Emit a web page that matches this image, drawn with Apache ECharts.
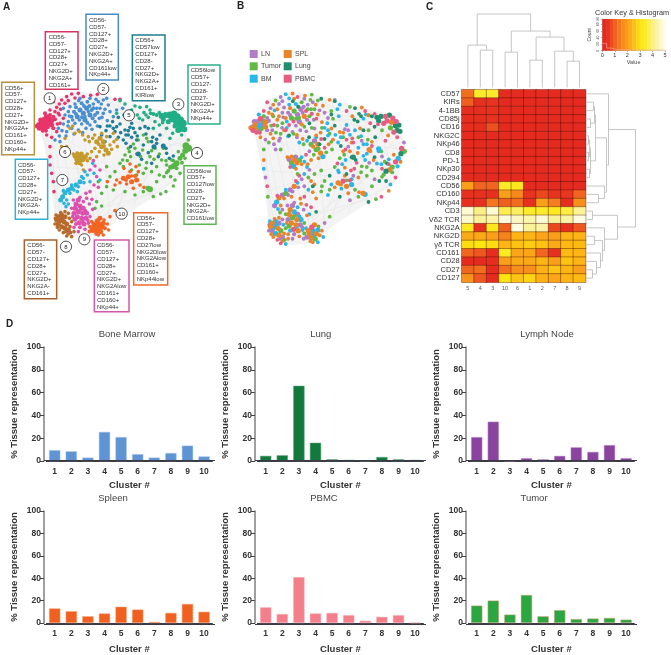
<!DOCTYPE html>
<html><head><meta charset="utf-8">
<style>html,body{margin:0;padding:0;background:#fff}#c{width:671px;height:655px}</style>
<script src="https://cdn.jsdelivr.net/npm/echarts@6/dist/echarts.min.js"></script>
</head><body><div id="c"></div>
<script>
const clusterNums=['1','2','3','4','5','6','7','8','9','10'];
const boneMarrow=[9.5,8.5,3,25.5,21,6,3,7,13.5,4];
const lung=[4.5,5,66,16,1.5,1,0.3,3.5,1.5,1];
const lymphNode=[21,34.5,0.3,2.5,1.5,4.5,12,8,14,2.5];
const spleen=[13,10.5,6,8.5,14.5,12,1,9,17,10];
const pbmc=[14,8,41,8.5,9,7,2,5.5,7,0.3];
const tumor=[15.5,20,7.5,25,6,11.5,3.5,4,4.5,3];
const heatCols=['5','4','3','10','6','1','2','7','8','9'];
const heatRows=['CD57','KIRs','4-1BB','CD85j','CD16','NKG2C','NKp46','CD8','PD-1','NKp30','CD294','CD56','CD160','NKp44','CD3','Vδ2 TCR','NKG2A','NKG2D','γδ TCR','CD161','CD28','CD27','CD127'];
const heatValues=[
[1.2,3.4,3.4,0.05,0.05,0,0,0,0,0],
[1.0,0.2,0.3,0,0,0,0,0,0,0],
[0.1,0.1,0.2,0,0,0,0,0,0,0],
[0.1,0.1,0.25,0,0,0,0,0,0,0],
[0.1,0.1,0.8,0,0,0,0,0,0,0],
[0,0,0,0,0,0,0,0,0,0],
[0,0,0,0,0,0,0,0,0,0],
[0,0,0,0,0,0,0,0,0,0],
[0,0,0,0,0,0,0,0,0,0],
[0,0,0,0,0,0,0,0,0,0],
[0,0,0,0,0,0,0,0,0,0],
[2,1.1,1.1,3.4,3.2,0,0,0,0,0],
[0.2,0.2,0.2,2,1.6,0.3,0.7,0.3,0.4,1.1],
[0.2,0.2,1.3,1,1.2,0.2,2,1.4,0.1,1.7],
[4.8,4,4.8,3.7,3.8,3.4,3.4,3.2,3.6,4.2],
[4.7,4.2,4.3,4.9,4.6,4.4,4.8,4.2,4.3,4.9],
[3.3,0.2,3.2,1,4.9,4.2,4.3,0.7,0.2,0.9],
[2.2,2.2,2.0,1.5,2.4,2.4,2.1,2,2.4,2.4],
[2.9,3,2.9,2.4,2.6,2.7,2.6,2.2,2.5,2.5],
[1.1,0.9,0.1,3.3,2.1,2.1,1.1,0.2,2.5,2.4],
[0,0,0.1,2,2.2,2.2,2.4,2,2.6,2.4],
[1.1,1.2,0,1.2,1.7,1.7,2.3,2.6,2.4,2],
[1.8,0.9,0,3,2.6,2.8,2.3,2.1,2.4,2.5]];
// dendrograms: [posA, heightA, posB, heightB, mergeHeight]
const colMerges=[[1,0,2,0,37],[0,0,1.5,37,42],[3,0,4,0,35],[5,0,6,0,27],[8,0,9,0,26],[7,0,8.5,26,36],[5.5,27,7.75,36,50],[3.5,35,6.625,50,56],[0.75,42,5.06,56,73]];
const rowMerges=[[1,0,2,0,7],[3,0,4,0,4],[1.5,7,3.5,4,8],[5,0,6,0,2],[7,0,8,0,2],[5.5,2,7.5,2,3],[9,0,10,0,3],[6.5,3,9.5,3,4],[2.5,8,8,4,9],[12,0,13,0,12],[11,0,12.5,12,18],[5.25,9,11.75,18,20],[0,0,8.5,20,22],[14,0,15,0,6],[17,0,18,0,8],[21,0,22,0,6],[20,0,21.5,6,10],[19,0,20.75,10,14],[17.5,8,19.9,14,16],[16,0,18.7,16,18],[14.5,6,17.35,18,31],[4.25,22,15.9,31,49]];
// colour key
const keySteps=[[0,0.3,0],[0.3,0.6,0.3],[0.6,0.9,0.75],[0.9,1.2,1.05],[1.2,1.5,1.35],[1.5,1.8,1.65],[1.8,2.1,1.95],[2.1,2.4,2.25],[2.4,2.7,2.55],[2.7,3,2.85],[3,3.3,3.15],[3.3,3.6,3.45],[3.6,3.9,3.75],[3.9,4.2,4.05],[4.2,4.5,4.35],[4.5,4.8,4.65],[4.8,5,4.95]];
const keyHist=[[0,22],[0.35,22],[0.35,8],[0.7,8],[0.7,3],[1.2,3],[1.2,2],[5,2]];
// network layout, one list per cluster: [x, y, optional dot size]
const net1=[[118,375,6],[125,368,6],[132,360,6],[140,352,6],[148,358,6],[125,380,6],[135,372,6],[145,368,6],[155,362,5],[118,385,5],[130,385,5],[142,380,5],[155,375,5],[165,358,4],[135,340,4],[128,392,4],[150,345,4],[165,335],[170,322],[178,312],[160,305],[185,300],[200,290],[215,282],[235,280],[195,310],[178,345],[180,370],[170,395],[155,412],[150,440],[150,470],[150,495],[155,520],[160,545],[162,575],[345,298],[360,298],[250,290],[272,286],[292,283],[182,328],[122,360,5],[112,378,5],[138,392,4],[160,385,4],[172,372],[190,355],[205,302],[225,294],[150,330],[140,405],[160,350,4],[175,340]];
const net2=[[250,340,5],[240,330,5],[260,325,5],[270,345,5],[232,350,5],[255,360,5],[275,330,4],[285,345,4],[222,335,4],[215,350,4],[245,310,4],[262,305,4],[280,312],[295,305],[300,325],[310,340],[298,355],[285,365],[270,375],[245,372],[225,370],[205,365],[195,345],[210,320],[225,312],[190,372],[175,385],[178,408],[200,395],[215,385],[235,390],[258,385],[310,300],[320,295],[325,315],[330,335],[350,330],[368,325],[340,350],[322,362],[240,295],[270,295],[255,350],[265,335],[238,360],[205,335],[290,325],[190,325],[165,420],[180,425],[228,322,4],[252,318,4],[268,318,4],[280,325,4],[292,338,4],[278,355,4],[262,368,4],[246,352,4],[228,342,4],[218,360],[208,348],[236,302],[288,298],[304,312],[315,328],[306,352],[292,378],[276,388],[248,398],[222,402],[198,408],[186,392],[204,378]];
const net3=[[485,348,6],[497,345,6],[510,345,7],[522,342,7],[532,350,7],[542,360,7],[550,370,7],[540,372,7],[528,362,7],[515,358,6],[545,385,7],[535,390,6],[553,388,6],[525,378,5],[505,365,5],[490,358,5],[470,345,4],[460,342,4],[450,330],[432,338],[445,352],[420,322],[405,318],[395,330],[412,345],[428,360],[465,365],[478,375],[500,385],[518,400],[545,405],[360,302],[375,312],[350,340],[510,415],[460,385],[478,338],[440,320],[418,355],[452,340],[488,368],[438,345]];
const net4=[[558,437,7],[566,445,7],[556,452,6],[548,465,5],[540,475,5],[530,490,6],[522,498,6],[512,502,5],[530,505,4],[500,495],[485,480],[470,500],[478,462],[465,445],[445,425],[430,405],[415,420],[400,432],[385,445],[375,465],[392,470],[410,462],[428,450],[450,470],[440,488],[418,495],[395,510],[410,525],[430,520],[455,515],[478,525],[500,518],[512,530],[525,540],[520,558],[498,575],[482,582],[460,590],[450,568,6],[444,565,5],[430,575],[405,585],[375,575],[340,570],[320,560],[305,580],[290,605],[285,625],[305,618],[330,530],[345,515],[360,490],[370,500],[555,475],[565,420],[490,445],[320,500],[295,545],[546,488,4],[505,512,4],[520,482],[535,455],[498,482],[462,478],[438,505],[422,470],[405,445],[382,482],[368,480],[388,455],[440,415],[455,452],[492,530],[540,520],[470,545],[515,480]];
const net5=[[330,378],[318,392],[305,405],[345,395],[360,372],[375,390],[390,382],[405,398],[395,412],[385,405],[370,420],[355,412],[330,410],[420,385],[438,402],[458,412],[470,430],[462,440,5],[490,438,5],[415,462,5],[445,458],[475,470],[500,460],[508,475],[430,435],[378,430],[392,440],[350,380],[338,365],[355,352],[372,345],[300,380],[315,425],[410,420],[395,370],[455,490],[425,478],[520,468],[435,380],[480,405],[340,385],[322,378],[385,392],[400,385],[378,405],[412,408],[362,398],[445,385],[470,418],[498,445],[455,425]];
const net6=[[240,470,6],[232,478,6],[248,478,6],[225,468,5],[256,470,5],[238,488,5],[245,495],[250,510],[262,462],[275,455],[220,462],[300,415,5],[290,425,5],[310,425,5],[305,440,5],[318,450,5],[325,460,5],[298,455],[285,445],[330,435],[342,425],[350,418],[278,415],[265,410],[248,405],[238,395],[225,400],[210,385],[218,378],[200,440],[185,440],[305,400],[320,410],[335,448],[312,465],[270,475],[290,470],[268,425],[195,415],[340,400],[296,432,4],[312,438,4],[284,405],[255,420],[232,460,4],[244,462,5],[228,490],[262,482],[352,440]];
const net7=[[182,600,5],[188,590,5],[195,578,5],[205,570,5],[215,565,5],[228,555,5],[240,545,5],[250,535],[262,525],[245,530],[222,570],[210,580],[192,610],[198,620],[205,612],[232,575],[255,515],[270,545],[200,600],[215,555],[235,560],[282,520],[278,490],[252,548],[300,540],[190,572]];
const net8=[[175,650,5],[185,645,5],[195,650,5],[170,660,5],[180,662,5],[192,665,5],[200,672,5],[175,672,5],[185,680,5],[195,685,5],[205,690,5],[178,690],[190,698],[205,702],[215,710],[210,680],[215,665],[205,640],[195,635],[168,645],[200,708],[222,695],[165,672],[186,655,5],[172,682],[198,695],[212,698],[182,638],[208,655],[166,655]];
const net9=[[235,600,5],[228,612,5],[240,618,5],[225,625,5],[250,625,5],[235,635,5],[248,640,5],[222,640,5],[260,640,5],[232,650,5],[245,655,5],[258,655,5],[225,658,5],[238,668,5],[252,672,5],[228,672,4],[240,682,4],[255,688],[235,695],[265,670],[270,650],[278,628],[268,612],[260,595],[270,575],[282,555],[290,530],[300,510],[285,498],[280,482],[270,510],[258,580],[220,600],[215,625],[250,605],[295,562],[240,592],[230,628],[242,628],[256,632],[218,650],[264,662],[222,682],[248,664],[276,598]];
const net10=[[285,680,6],[295,672,6],[305,680,6],[278,690,6],[290,692,6],[302,695,5],[310,670,5],[300,655,5],[292,662,5],[315,685,4],[270,680,4],[322,672],[310,705],[295,705],[330,650],[345,632],[275,665],[370,535,5],[385,530,5],[395,545,5],[410,540,5],[420,555],[400,565],[380,552],[360,548],[345,555],[372,505],[415,515],[432,562],[408,500],[390,492],[350,540],[322,545],[390,515],[282,672,5],[298,685,6],[312,660],[268,695],[288,702],[326,690],[405,528,4],[378,540,4],[395,528]];
const allNets=[net1,net2,net3,net4,net5,net6,net7,net8,net9,net10];
const clusterColors=['#e8336b','#4a8fd0','#1fae85','#58b548','#1f7f9a','#c49a2c','#2cb4dc','#b8692c','#dc50ae','#f26522'];
// tissue of each point, in list order, per cluster (L=LN T=Tumor B=BM S=SPL G=Lung P=PBMC)
const tissueCodes=['LSLPTSBLSPLTSLBPTSLSPTLBSLTPSLTSBLPTSLPSTBLSPLTSLBPS','LTLSTLPTLSBTLLTSLGTLPTSLBTLSTPLLTGSLTBLSSLTLPLTSTLSGLTPLSTLBLGTSLPTLSB','GGPGPPGGSPGPGTPGGSPGBGTPSGPGTSPGBGPTPSGBPG','PTGBPTSGTPBTGSBTPLSTBGSBTPGBSTLTGBSPTGBSTLGBTSPBGTGTBSLBTGBTPSBLTGSBPTLBG','BSBTGSLBPTBSGBBTPSBGBSLTBGPSBTBLGSBTPBSGBTSLBPBGSTB','STSLTBSTBPSLTSTSBTLPSTBSLTGSBTLSPTSBSTLBSTGBSLPST','LBSLTLSBLPLSBTLSPLSBLTBLSP','SBLSBSTLBSLSPSBSTLSBPSLBSLTSBL','LSBSLTSLBSSLTPSBLSLBTSLSPBSTLSBSLTBSLSTBSLSBP','SBSLSTBSPSTSBSLTBSPSBTSBSTBLSPSBTSSBTLSBPST'];
const tissueMeta={L:['LN','#b07cc6'],T:['Tumor','#62b946'],B:['BM','#29b6e8'],S:['SPL','#e8842a'],G:['Lung','#1f8f6e'],P:['PBMC','#e85c84']};
const hullPoly=[[115,375],[160,300],[235,275],[330,290],[430,320],[530,340],[560,400],[570,445],[540,530],[460,590],[350,660],[300,705],[230,712],[170,690],[150,520],[130,420]];
const netChords=[[150,330,170,680],[140,400,200,700],[170,320,300,700],[235,280,290,700],[330,295,450,580],[430,320,350,650],[530,345,300,700],[555,400,230,705],[565,445,210,690],[120,380,560,440],[130,365,530,350],[160,310,550,400],[235,280,565,445],[150,420,460,590],[155,500,540,530],[160,560,560,420],[180,640,530,360],[190,620,440,330],[125,385,180,650],[135,400,190,690],[145,350,210,660],[165,330,240,690],[200,300,260,680],[250,290,300,680],[300,290,330,660],[350,300,460,590],[400,315,520,550],[480,335,540,530],[515,345,400,620],[470,330,300,690],[130,375,470,590],[140,360,540,500],[190,300,510,370],[280,285,560,410],[175,660,500,570],[200,700,530,540]];
const boxes=[
{c:'#d8345f',x:136,y:95,w:98,h:173,tx:146,ty:112,s:['CD56-','CD57-','CD127+','CD28+','CD27+','NKG2D+','NKG2A+','CD161+']},
{c:'#4a8ac4',x:258,y:43,w:97,h:197,tx:267,ty:61,s:['CD56-','CD57-','CD127+','CD28+','CD27+','NKG2D+','NKG2A+','CD161low','NKp44+']},
{c:'#1b7e93',x:397,y:105,w:98,h:197,tx:406,ty:122,s:['CD56+','CD57low','CD127+','CD28-','CD27+','NKG2D+','NKG2A+','CD161+','KIRlow']},
{c:'#2bb08c',x:564,y:195,w:96,h:177,tx:572,ty:212,s:['CD56low','CD57+','CD127-','CD28-','CD27-','NKG2D+','NKG2A+','NKp44+']},
{c:'#5bb550',x:552,y:497,w:96,h:176,tx:560,ty:513,s:['CD56low','CD57+','CD127low','CD28-','CD27+','NKG2D+','NKG2A-','CD161low']},
{c:'#ee6a2c',x:401,y:638,w:102,h:217,tx:410,ty:654,s:['CD56+','CD57-','CD127+','CD28+','CD27low','NKG2Dlow','NKG2Alow','CD161+','CD160+','NKp44low']},
{c:'#d458a8',x:283,y:720,w:104,h:215,tx:291,ty:737,s:['CD56-','CD57-','CD127+','CD28+','CD27+','NKG2D+','NKG2Alow','CD161+','CD160+','NKp44+']},
{c:'#a8602c',x:73,y:720,w:97,h:176,tx:82,ty:737,s:['CD56-','CD57-','CD127+','CD28+','CD27+','NKG2D+','NKG2A-','CD161+']},
{c:'#29b4d8',x:46,y:478,w:97,h:180,tx:54,ty:495,s:['CD56-','CD57-','CD127+','CD28+','CD27+','NKG2D+','NKG2A-','NKp44+']},
{c:'#b8923a',x:5,y:247,w:98,h:217,tx:14,ty:264,s:['CD56+','CD57-','CD127+','CD28+','CD27+','NKG2D+','NKG2A+','CD161+','CD160+','NKp44+']}];
const badges=[['1',149,295],['2',310,267],['3',535,313],['4',591,459],['5',387,346],['6',195,456],['7',187,540],['8',198,740],['9',253,718],['10',365,641]];

const FF='"Liberation Sans",Arial,sans-serif';
const grid=[],xAxis=[],yAxis=[],series=[],graphic=[];
const hidden={show:false};
function txt(x,y,t,o){graphic.push({type:'text',z:50,x,y,silent:true,rotation:o.rot||0,style:Object.assign({text:t,font:(o.w||'normal')+' '+o.s+'px '+FF,fill:o.c||'#333',textAlign:o.a||'left',textVerticalAlign:'middle'},o.l?{lineHeight:o.l}:{})});}
function line(x1,y1,x2,y2,c,w){graphic.push({type:'line',z:50,silent:true,shape:{x1,y1,x2,y2},style:{stroke:c,lineWidth:w}});}

// ---------- bar panels
const panels=[
['Bone Marrow',boneMarrow,'#5f94d4','#a9c6e8',44,347,127,334,19],
['Lung',lung,'#137a3e','#6aa884',255,347,320.7,334,19],
['Lymph Node',lymphNode,'#8a44a0','#c39ccf',466,347,547,334,19],
['Spleen',spleen,'#f0601e','#f6a77f',44,511,113,498.7,21],
['PBMC',pbmc,'#f27f8a','#f5b5ba',255,511,324,498.7,21],
['Tumor',tumor,'#2ba640','#d9a878',466,511,534,498.7,21]];
panels.forEach(p=>{
  const i=grid.length,[name,vals,col,edge,ax,top,tx,ty,gap]=p;
  grid.push({left:ax+2.4,top,width:166,height:114});
  xAxis.push({gridIndex:i,type:'category',data:clusterNums,name:'Cluster #',nameLocation:'middle',nameGap:gap,
    nameTextStyle:{fontFamily:FF,fontWeight:'bold',fontSize:9.5,color:'#333'},
    axisLine:{lineStyle:{color:'#3a3a44',width:1}},axisTick:{alignWithLabel:true,length:3,lineStyle:{color:'#3a3a44'}},
    axisLabel:{interval:0,fontFamily:FF,fontWeight:'bold',fontSize:8.5,color:'#333',margin:6}});
  yAxis.push({gridIndex:i,type:'value',min:0,max:100,interval:20,offset:2.4,name:'% Tissue representation',nameLocation:'middle',nameGap:25,nameRotate:90,
    nameTextStyle:{fontFamily:FF,fontWeight:'bold',fontSize:9.5,color:'#333'},splitLine:hidden,
    axisLine:{show:true,lineStyle:{color:'#808080',width:1.5}},axisTick:{show:true,length:4,lineStyle:{color:'#444'}},
    axisLabel:{fontFamily:FF,fontWeight:'bold',fontSize:8.5,color:'#333',margin:3}});
  series.push({type:'bar',xAxisIndex:i,yAxisIndex:i,data:vals,barWidth:'68%',itemStyle:{color:col,borderColor:edge,borderWidth:0.5},silent:true});
  line(ax,top+113.5,ax+171,top+113.5,'#3a3a44',1);
  txt(tx,ty,name,{s:9.5,c:'#444',a:'center'});
});

// ---------- heatmap
const hi=grid.length;
grid.push({left:461.7,top:89.7,width:124,height:192.6});
xAxis.push({gridIndex:hi,type:'category',data:heatCols,position:'bottom',axisLine:hidden,axisTick:hidden,axisLabel:{interval:0,fontFamily:FF,fontSize:5.5,color:'#555',margin:3}});
yAxis.push({gridIndex:hi,type:'category',data:heatRows,inverse:true,axisLine:hidden,axisTick:hidden,axisLabel:{interval:0,fontFamily:FF,fontSize:7.5,color:'#333',margin:2}});
const heatData=[];heatValues.forEach((r,j)=>r.forEach((v,k)=>heatData.push([k,j,v])));
const heatSeries=series.length;
series.push({type:'heatmap',xAxisIndex:hi,yAxisIndex:hi,data:heatData,silent:true,itemStyle:{borderColor:'rgba(70,10,0,0.75)',borderWidth:0.5}});

// dendrogram helpers
const dendroLine={stroke:'#b8b8b8',lineWidth:0.8,fill:null};
// top dendrogram
const ti=grid.length;
grid.push({left:461.7,top:14,width:124,height:73.3});
xAxis.push({gridIndex:ti,type:'value',min:-0.5,max:9.5,show:false});
yAxis.push({gridIndex:ti,type:'value',min:0,max:73,show:false});
series.push({type:'custom',xAxisIndex:ti,yAxisIndex:ti,silent:true,clip:false,data:colMerges,renderItem:(p,api)=>{
  const a=api.value(0),ha=api.value(1),b=api.value(2),hb=api.value(3),h=api.value(4);
  return {type:'polyline',shape:{points:[api.coord([a,ha]),api.coord([a,h]),api.coord([b,h]),api.coord([b,hb])]},style:dendroLine};
}});
// right dendrogram
const ri=grid.length;
grid.push({left:586.5,top:89.7,width:49.5,height:192.6});
xAxis.push({gridIndex:ri,type:'value',min:0,max:49.5,show:false});
yAxis.push({gridIndex:ri,type:'value',min:-0.5,max:22.5,inverse:true,show:false});
series.push({type:'custom',xAxisIndex:ri,yAxisIndex:ri,silent:true,clip:false,data:rowMerges,renderItem:(p,api)=>{
  const a=api.value(0),ha=api.value(1),b=api.value(2),hb=api.value(3),h=api.value(4);
  return {type:'polyline',shape:{points:[api.coord([ha,a]),api.coord([h,a]),api.coord([h,b]),api.coord([hb,b])]},style:dendroLine};
}});
// colour key
const ki=grid.length;
grid.push({left:602.3,top:19,width:62.7,height:31.7});
xAxis.push({gridIndex:ki,type:'value',min:0,max:5,interval:1,name:'Value',nameLocation:'middle',nameGap:9,nameTextStyle:{fontFamily:FF,fontSize:5.5,color:'#444'},splitLine:hidden,
  axisLine:{lineStyle:{color:'#666',width:0.5}},axisTick:{length:1.5,lineStyle:{color:'#666',width:0.5}},axisLabel:{fontFamily:FF,fontSize:5.5,color:'#333',margin:2}});
yAxis.push({gridIndex:ki,type:'value',min:0,max:96,interval:20,name:'Count',nameLocation:'middle',nameGap:10,nameRotate:90,nameTextStyle:{fontFamily:FF,fontSize:5,color:'#444'},splitLine:hidden,
  axisLine:{show:true,lineStyle:{color:'#666',width:0.5}},axisTick:{show:true,length:1.5,lineStyle:{color:'#666',width:0.5}},axisLabel:{fontFamily:FF,fontSize:3.5,color:'#444',margin:2,rotate:90}});
const keySeries=series.length;
series.push({type:'custom',xAxisIndex:ki,yAxisIndex:ki,silent:true,data:keySteps,renderItem:(p,api)=>{
  const s=api.coord([api.value(0),0]),e=api.coord([api.value(1),96]);
  return {type:'rect',shape:{x:s[0],y:e[1],width:e[0]-s[0]+0.3,height:s[1]-e[1]},style:{fill:api.visual('color')}};
}});
series.push({type:'line',xAxisIndex:ki,yAxisIndex:ki,data:keyHist,symbol:'none',silent:true,lineStyle:{color:'#f4a7a0',width:0.6}});
txt(632,13,'Color Key & Histogram',{s:7.3,a:'center'});

// ---------- network panels
function netPanel(left,width,top,height){
  const i=grid.length;
  grid.push({left,top,width,height});
  xAxis.push({gridIndex:i,type:'value',min:60,max:640,show:false});
  yAxis.push({gridIndex:i,type:'value',min:60,max:720,inverse:true,show:false});
  series.push({type:'custom',xAxisIndex:i,yAxisIndex:i,silent:true,clip:false,z:1,data:[[0]],renderItem:(p,api)=>({type:'polygon',shape:{points:hullPoly.map(q=>api.coord(q))},style:{fill:'#f4f4f4',stroke:'#eeeeee',lineWidth:0.5}})});
  series.push({type:'custom',xAxisIndex:i,yAxisIndex:i,silent:true,clip:false,z:1,data:netChords,renderItem:(p,api)=>({type:'line',shape:(()=>{const a=api.coord([api.value(0),api.value(1)]),b=api.coord([api.value(2),api.value(3)]);return{x1:a[0],y1:a[1],x2:b[0],y2:b[1]};})(),style:{stroke:'#e4e4e4',lineWidth:0.5}})});
  return i;
}
const dotSize=v=>v[2]?v[2]:3.6;
const ai=netPanel(20,193.3,20,220);
allNets.forEach((pts,c)=>series.push({type:'scatter',xAxisIndex:ai,yAxisIndex:ai,data:pts,symbolSize:dotSize,itemStyle:{color:clusterColors[c],opacity:1},silent:true,z:2}));
const bi=netPanel(233.4,195.9,16.5,231);
const byTissue={L:[],T:[],B:[],S:[],G:[],P:[]};
allNets.forEach((pts,c)=>pts.forEach((q,n)=>{const code=tissueCodes[c];byTissue[code[n%code.length]].push(q);}));
Object.keys(byTissue).forEach(k=>series.push({type:'scatter',name:tissueMeta[k][0],xAxisIndex:bi,yAxisIndex:bi,data:byTissue[k],symbolSize:v=>Math.min(dotSize(v),5)*1.05,itemStyle:{color:tissueMeta[k][1],opacity:1},silent:true,z:2}));

// ---------- annotations
boxes.forEach(b=>{
  graphic.push({type:'rect',z:50,silent:true,shape:{x:b.x/3,y:b.y/3,width:b.w/3,height:b.h/3},style:{fill:'#fff',stroke:b.c,lineWidth:1.5}});
  b.s.forEach((t,n)=>txt(b.tx/3,b.ty/3+n*6.8,t,{s:6,c:'#333'}));
});
badges.forEach(d=>{
  graphic.push({type:'circle',z:50,silent:true,shape:{cx:d[1]/3,cy:d[2]/3,r:5.6},style:{fill:'#fff',stroke:'#222',lineWidth:0.8}});
  txt(d[1]/3,d[2]/3+0.2,d[0],{s:6,c:'#222',a:'center'});
});
[['LN','L',253.7,54],['Tumor','T',253.7,66.3],['BM','B',253.7,78.7],['SPL','S',287.7,54],['Lung','G',287.7,66.3],['PBMC','P',287.7,78.7]].forEach(e=>{
  graphic.push({type:'rect',z:50,silent:true,shape:{x:e[2]-4,y:e[3]-4,width:8,height:8},style:{fill:tissueMeta[e[1]][1]}});
  txt(e[2]+7.3,e[3],e[0],{s:7,c:'#444'});
});
[['A',3,7],['B',237,6],['C',426,7],['D',6,324]].forEach(l=>txt(l[1],l[2],l[0],{s:10,w:'bold',c:'#222'}));

const chart=echarts.init(document.getElementById('c'),null,{renderer:'canvas'});
chart.setOption({animation:false,backgroundColor:'#fff',grid,xAxis,yAxis,series,
  visualMap:{show:false,type:'continuous',min:0,max:5,dimension:2,seriesIndex:[heatSeries,keySeries],
    inRange:{color:['#e52b20','#e9391f','#ef5f20','#f5841e','#fa9f1a','#fdbb12','#fde510','#fbec30','#f9f085','#fbf6b8','#fffdea']}},
  graphic:{elements:graphic}});
</script></body></html>
